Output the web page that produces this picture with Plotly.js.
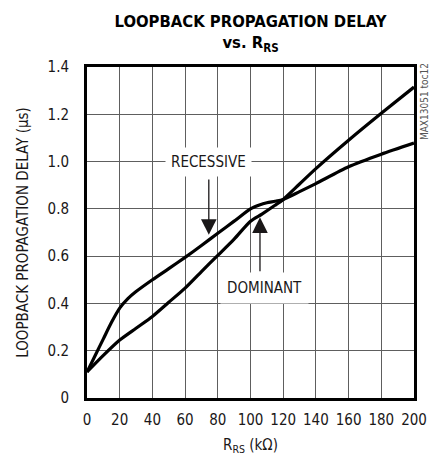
<!DOCTYPE html>
<html>
<head>
<meta charset="utf-8">
<script src="https://cdn.plot.ly/plotly-3.0.1.min.js"></script>
<style>html,body{margin:0;padding:0;background:#fff;}#chart{width:429px;height:459px;}</style>
</head>
<body>
<div id="chart"></div>
<script>
// Data
const recessiveX = [0, 5, 10, 15, 20, 25, 30, 40, 50, 60, 70, 80, 90, 100, 105, 110, 115, 120, 130, 140, 160, 180, 200];
const recessiveY = [0.11, 0.18, 0.25, 0.32, 0.38, 0.42, 0.45, 0.50, 0.547, 0.595, 0.645, 0.697, 0.748, 0.80, 0.815, 0.826, 0.832, 0.84, 0.873, 0.907, 0.978, 1.031, 1.078];
const dominantX = [0, 10, 20, 30, 40, 50, 60, 70, 80, 90, 100, 107, 115, 120, 130, 140, 160, 180, 200];
const dominantY = [0.11, 0.18, 0.245, 0.295, 0.345, 0.405, 0.465, 0.535, 0.603, 0.672, 0.748, 0.778, 0.815, 0.84, 0.905, 0.97, 1.09, 1.204, 1.315];
const xTickVals = [0, 20, 40, 60, 80, 100, 120, 140, 160, 180, 200];
const xTickText = ['0', '20', '40', '60', '80', '100', '120', '140', '160', '180', '200'];
const yTickVals = [0, 0.2, 0.4, 0.6, 0.8, 1.0, 1.2, 1.4];
const yTickText = ['0', '0.2', '0.4', '0.6', '0.8', '1.0', '1.2', '1.4'];

const FONT = '"Liberation Sans Narrow", "Arial Narrow", "DejaVu Sans Condensed", sans-serif';
const INK = '#1a1718';

const traces = [
  {x: recessiveX, y: recessiveY, mode: 'lines', line: {color: '#000', width: 3.2, shape: 'spline', smoothing: 0.7}, name: 'RECESSIVE', showlegend: false, hoverinfo: 'skip'},
  {x: dominantX, y: dominantY, mode: 'lines', line: {color: '#000', width: 3.2, shape: 'spline', smoothing: 0.7}, name: 'DOMINANT', showlegend: false, hoverinfo: 'skip'}
];

const layout = {
  width: 429, height: 459,
  margin: {l: 87, r: 15, t: 67, b: 61},
  paper_bgcolor: '#fff', plot_bgcolor: '#fff',
  font: {family: FONT, color: INK, size: 15},
  title: {
    text: '<b>LOOPBACK PROPAGATION DELAY<br>vs. R<sub>RS</sub></b>',
    x: 0.5, xref: 'paper', xanchor: 'center',
    y: 0.942, yref: 'container', yanchor: 'middle',
    font: {family: FONT, size: 16.5, color: '#000'}
  },
  xaxis: {
    range: [0, 200], tickvals: xTickVals, ticktext: xTickText,
    showgrid: true, gridcolor: '#5e5e5e', gridwidth: 1,
    showline: true, linecolor: '#000', linewidth: 3, mirror: true,
    ticks: 'outside', ticklen: 6, tickcolor: 'rgba(0,0,0,0)', zeroline: false,
    tickfont: {family: FONT, size: 15, color: INK},
    title: {text: 'R<sub>RS</sub> (kΩ)', font: {family: FONT, size: 15, color: INK}, standoff: 12},
    fixedrange: true
  },
  yaxis: {
    range: [0, 1.4], tickvals: yTickVals, ticktext: yTickText,
    showgrid: true, gridcolor: '#5e5e5e', gridwidth: 1,
    showline: true, linecolor: '#000', linewidth: 3, mirror: true,
    ticks: 'outside', ticklen: 12, tickcolor: 'rgba(0,0,0,0)', zeroline: false,
    tickfont: {family: FONT, size: 15, color: INK},
    title: {text: 'LOOPBACK PROPAGATION DELAY (µs)', font: {family: FONT, size: 15, color: INK}, standoff: 16},
    fixedrange: true
  },
  annotations: [
    {x: 74.5, y: 0.69, ax: 74.5, ay: 0.93, axref: 'x', ayref: 'y', xref: 'x', yref: 'y',
     text: '', showarrow: true, arrowhead: 2, arrowsize: 2.4, arrowwidth: 1.3, arrowcolor: INK},
    {x: 74.6, y: 1.0, xref: 'x', yref: 'y', text: 'RECESSIVE', showarrow: false,
     bgcolor: '#fff', borderpad: 5, font: {family: FONT, size: 15, color: INK}},
    {x: 105.8, y: 0.764, ax: 105.8, ay: 0.53, axref: 'x', ayref: 'y', xref: 'x', yref: 'y',
     text: '', showarrow: true, arrowhead: 2, arrowsize: 2.4, arrowwidth: 1.3, arrowcolor: INK},
    {x: 108.8, y: 0.464, xref: 'x', yref: 'y', text: 'DOMINANT', showarrow: false,
     bgcolor: '#fff', borderpad: 6, font: {family: FONT, size: 15, color: INK}},
    {x: 1, xref: 'paper', xshift: 10, y: 0.894, yref: 'paper', text: 'MAX13051 toc12', textangle: -90,
     showarrow: false, xanchor: 'center', yanchor: 'middle', font: {family: FONT, size: 10, color: '#555'}}
  ]
};

Plotly.newPlot('chart', traces, layout, {staticPlot: true, displayModeBar: false});
</script>
</body>
</html>
